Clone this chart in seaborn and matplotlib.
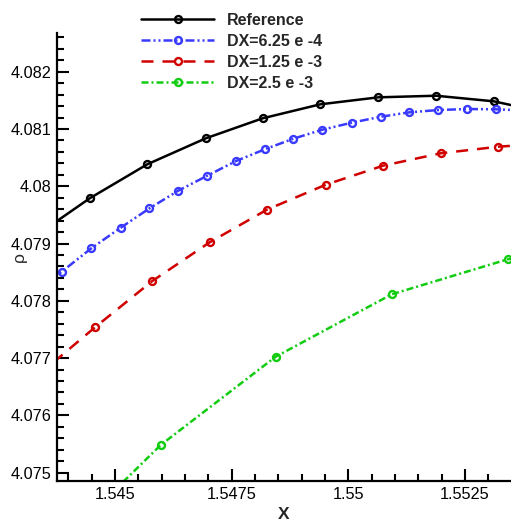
import numpy as np
import pandas as pd
import matplotlib
matplotlib.use("Agg")
import matplotlib.pyplot as plt
from matplotlib.ticker import FixedLocator, MultipleLocator
import seaborn as sns

# ---------------- data ----------------
ref_x = [1.543221, 1.544458, 1.545692, 1.546944, 1.548165, 1.549399,
         1.550642, 1.551879, 1.553121, 1.554358]
ref_y = [4.07909, 4.07979, 4.080384, 4.080837, 4.081187, 4.081431,
         4.081553, 4.081581, 4.081483, 4.081263]

dx1_x = [1.543243, 1.543858, 1.544492, 1.545122, 1.545739, 1.546356,
         1.546978, 1.547593, 1.548214, 1.548821, 1.549442, 1.550072,
         1.550694, 1.551306, 1.551921, 1.552543, 1.553158, 1.553777]
dx1_y = [4.078112, 4.078509, 4.078917, 4.079277, 4.079615, 4.079923,
         4.080185, 4.080441, 4.080647, 4.08083, 4.080988, 4.08111,
         4.081214, 4.081291, 4.081331, 4.081349, 4.081344, 4.081323]

dx2_x = [1.543335, 1.544571, 1.545799, 1.547029, 1.548261, 1.549515,
         1.550743, 1.551979, 1.553214, 1.55445]
dx2_y = [4.07669, 4.077538, 4.078346, 4.079022, 4.079594, 4.080027,
         4.080359, 4.080576, 4.080691, 4.080761]

dx3_x = [1.5435, 1.545979, 1.548444, 1.550929, 1.553415, 1.555892]
dx3_y = [4.073502, 4.075483, 4.077025, 4.078114, 4.078725, 4.079132]

series_names = ["Reference", "DX=6.25 e -4", "DX=1.25 e -3", "DX=2.5 e -3"]

x_ticks = [1.545, 1.5475, 1.55, 1.5525]
x_tick_labels = ["1.545", "1.5475", "1.55", "1.5525"]
y_ticks = [4.075, 4.076, 4.077, 4.078, 4.079, 4.08, 4.081, 4.082]
y_tick_labels = ["4.075", "4.076", "4.077", "4.078", "4.079", "4.08", "4.081", "4.082"]

# ---------------- styling ----------------
sns.set_style("ticks")
plt.rcParams["font.family"] = ["Liberation Sans", "DejaVu Sans"]

colors = ["#000000", "#3a3aff", "#d00000", "#11cc11"]
lw = 1.8
styles = ["-", (0, (3.6, 1.2, 0.8, 1.2, 0.8, 1.2)),
          (0, (4.8, 3.6)), (0, (2.8, 1.2, 0.8, 1.2))]

W, H = 511, 523
fig = plt.figure(figsize=(W / 100, H / 100), dpi=100)
ax = fig.add_axes([57 / W, (H - 481) / H, (511 - 57) / W, (481 - 33) / H])

all_x = [ref_x, dx1_x, dx2_x, dx3_x]
all_y = [ref_y, dx1_y, dx2_y, dx3_y]
for xs, ys, name, c, ls in zip(all_x, all_y, series_names, colors, styles):
    df = pd.DataFrame({"X": xs, "rho": ys})
    sns.lineplot(data=df, x="X", y="rho", ax=ax, sort=False, label=name,
                 color=c, linestyle=ls, linewidth=lw, marker="o",
                 markersize=5, markerfacecolor="none", markeredgecolor=c,
                 markeredgewidth=1.7)

ax.set_xlim(1.543757, 1.553486)
ax.set_ylim(4.074855, 4.082676)

ax.xaxis.set_major_locator(FixedLocator(x_ticks))
ax.set_xticklabels(x_tick_labels)
ax.xaxis.set_minor_locator(MultipleLocator(0.0005))
ax.yaxis.set_major_locator(FixedLocator(y_ticks))
ax.set_yticklabels(y_tick_labels)
ax.yaxis.set_minor_locator(MultipleLocator(0.0002))

ax.tick_params(which="both", direction="in", width=1.5, color="black",
               labelsize=11.7, labelcolor="black")
ax.tick_params(which="major", length=8.6, pad=4)
ax.tick_params(which="minor", length=5)

for s in ["top", "right"]:
    ax.spines[s].set_visible(False)
for s in ["left", "bottom"]:
    ax.spines[s].set_linewidth(1.6)
    ax.spines[s].set_color("black")

ax.set_xlabel("X", fontsize=12.5, fontweight="bold", labelpad=4)
ax.set_ylabel("ρ", fontsize=12.5, rotation=90)
ax.yaxis.set_label_coords((27 - 57) / (511 - 57), 0.5)

handles, labels = ax.get_legend_handles_labels()
ax.get_legend().remove()
fig.legend(handles, labels, loc="upper left",
           bbox_to_anchor=(128 / W, 1 - 0 / H), frameon=False,
           prop={"weight": "bold", "size": 11.5}, handlelength=4.6,
           handletextpad=0.8, labelspacing=0.38, borderpad=0.3)

fig.savefig("out.png", dpi=100)
